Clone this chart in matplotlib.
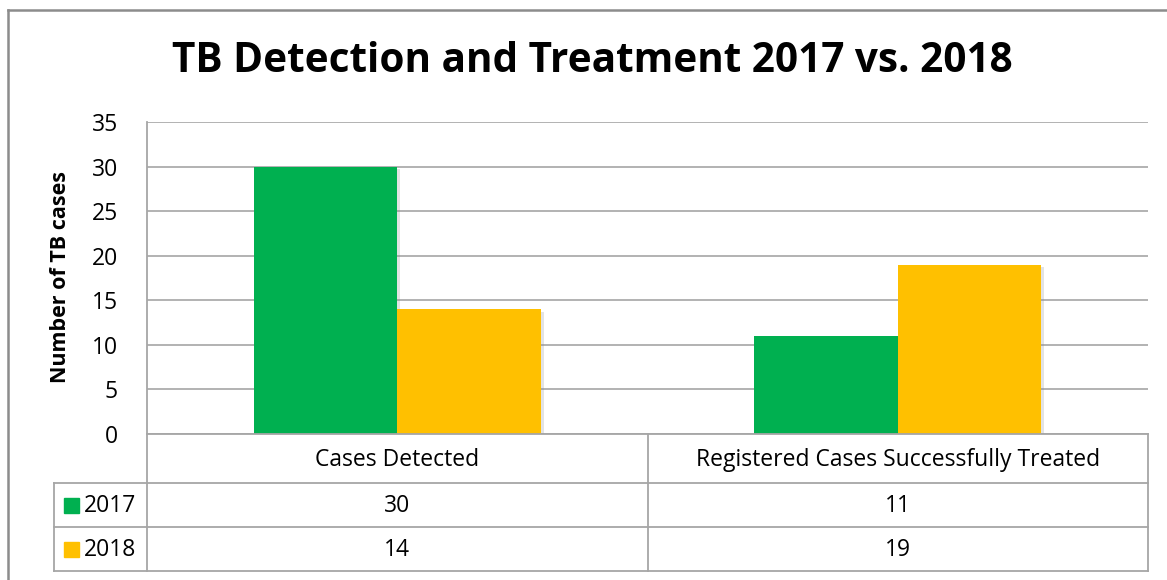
import matplotlib.pyplot as plt
import matplotlib.patheffects as pe
from matplotlib.transforms import blended_transform_factory
import numpy as np

categories = ["Cases Detected", "Registered Cases Successfully Treated"]
years = ["2017", "2018"]
values_2017 = [30, 11]
values_2018 = [14, 19]
colors = ["#00B050", "#FFC000"]

W, H = 1167, 580
FONT = "Open Sans"
GRID = "#a6a6a6"

plt.rcParams['font.family'] = [FONT, 'DejaVu Sans']

fig = plt.figure(figsize=(W / 100, H / 100), dpi=100)

# pixel helpers
def fx(px):
    return px / W

def fy(py):
    return 1 - py / H

# main plot area
left, right, top, bottom = 147, 1148, 122, 434
ax = fig.add_axes([fx(left), fy(bottom), fx(right - left), (bottom - top) / H])

x = np.arange(len(categories))
bw = 0.287
shadow = [pe.SimplePatchShadow(offset=(2, -2), shadow_rgbFace="#909090", alpha=0.25), pe.Normal()]
for vals, off, c in [(values_2017, -bw / 2, colors[0]), (values_2018, bw / 2, colors[1])]:
    bars = ax.bar(x + off, vals, width=bw, color=c, zorder=3)
    for b in bars:
        b.set_path_effects(shadow)

ax.set_xlim(-0.5, len(categories) - 0.5)
ax.set_ylim(0, 35)
ax.set_yticks(range(0, 36, 5))
ax.yaxis.grid(True, color=GRID, linewidth=1.2, zorder=0)
ax.set_axisbelow(True)
ax.set_xticks([])
for s in ["top", "right", "bottom", "left"]:
    ax.spines[s].set_visible(False)
ax.tick_params(axis="y", length=0, pad=21, labelsize=16.5)

# overlay in pixel coordinates for the table / frame
ov = fig.add_axes([0, 0, 1, 1], facecolor="none")
ov.set_xlim(0, W)
ov.set_ylim(H, 0)
ov.axis("off")

# outer frame (partly cut off)
ov.plot([8, 8], [10, H + 5], color="#8c8c8c", lw=1.8, clip_on=False)
ov.plot([8, W + 5], [10, 10], color="#8c8c8c", lw=1.8, clip_on=False)

# table rules
r0, r1, r2, r3 = 434, 483, 527, 571
kx = 54
lw = 1.3
ov.plot([left, right], [r0, r0], color=GRID, lw=lw)
for r in (r1, r2, r3):
    ov.plot([kx, right], [r, r], color=GRID, lw=lw)
ov.plot([left, left], [top, r3], color=GRID, lw=lw)
ov.plot([kx, kx], [r1, r3], color=GRID, lw=lw)
ov.plot([right, right], [r0, r3], color=GRID, lw=lw)
mid = ax.transData.transform((0.5, 0))[0]
ov.plot([mid, mid], [r0, r3], color=GRID, lw=lw)

# table text, columns follow the bar axis
fs = 16.5
tt = blended_transform_factory(ax.transData, ov.transData)
for i, cat in enumerate(categories):
    ov.text(i, (r0 + r1) / 2 + 1, cat, transform=tt, ha="center", va="center", fontsize=fs)
    ov.text(i, (r1 + r2) / 2 + 1, str(values_2017[i]), transform=tt, ha="center", va="center", fontsize=fs)
    ov.text(i, (r2 + r3) / 2 + 1, str(values_2018[i]), transform=tt, ha="center", va="center", fontsize=fs)

# legend keys inside table
for (ra, rb), yr, c in [((r1, r2), years[0], colors[0]), ((r2, r3), years[1], colors[1])]:
    yc = (ra + rb) / 2
    ov.add_patch(plt.Rectangle((64, yc - 7.5), 15, 15, color=c))
    ov.text(84, yc + 1, yr, ha="left", va="center", fontsize=fs)

# title and axis label
fig.text(fx(592), fy(62), "TB Detection and Treatment 2017 vs. 2018", ha="center", va="center",
         fontsize=29.2, fontweight="bold")
fig.text(fx(60), fy(277), "Number of TB cases", rotation=90, ha="center", va="center",
         fontsize=15.5, fontweight="bold")

# cut-off caption above the frame
fig.text(fx(356), fy(-6), "(a)", ha="center", va="baseline", fontsize=29.2, fontweight="bold")

fig.savefig("out.png", dpi=100)
